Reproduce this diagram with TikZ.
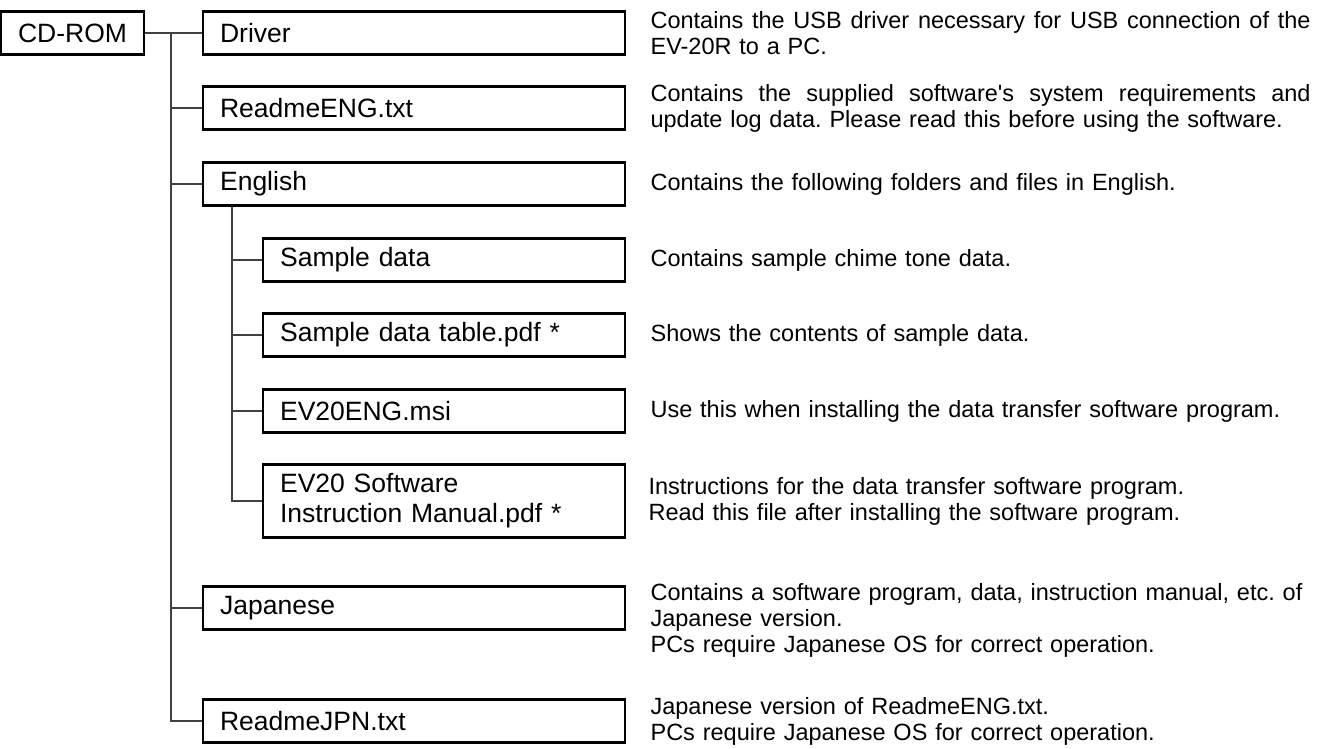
\documentclass[tikz,border=0pt]{standalone}
\usepackage{fontspec}
\setmainfont{Liberation Sans}
\frenchspacing
\newcommand\fullline[1]{\hbox to 330pt{\spaceskip=3.2pt plus 1fil\relax #1}}
\begin{document}
\begin{tikzpicture}[x=0.5pt,y=-0.5pt]
  \tikzstyle{dir}=[draw,line width=1.1pt,rectangle,anchor=west,minimum height=21.5pt,
                   inner xsep=8.5pt,align=left,font=\fontsize{13.25}{15}\selectfont]
  \tikzstyle{dirA}=[dir,text width=194pt]
  \tikzstyle{dirB}=[dir,text width=164pt]
  \tikzstyle{info}=[anchor=west,inner sep=0pt,text width=330pt,align=left,
                    font=\fontsize{11.75}{13}\selectfont]
  \tikzstyle{conn}=[line width=0.9pt,black!75]
  \useasboundingbox (0,0) rectangle (1319,749);
  % folders and files
  \node[dir,anchor=center,minimum width=66pt,align=center] (cdrom) at (72.5,33) {CD-ROM};
  \node[dirA] (driver)    at (202,33)  {Driver};
  \node[dirA] (readme)    at (202,108) {ReadmeENG.txt};
  \node[dirA] (english)   at (202,184) {English};
  \node[dirB] (sample)    at (262,260) {Sample data};
  \node[dirB] (table)     at (262,335) {Sample data table.pdf *};
  \node[dirB] (msi)       at (262,411) {EV20ENG.msi};
  \node[dirB,minimum height=36.5pt] (manual) at (262,501) {EV20 Software\\Instruction Manual.pdf *};
  \node[dirA] (japanese)  at (202,608) {Japanese};
  \node[dirA] (readmejpn) at (202,721) {ReadmeJPN.txt};
  % connectors
  \coordinate (root) at (171,33);
  \coordinate (sub) at (232,0);
  \draw[conn] (cdrom.east) -- (driver.west);
  \foreach \n in {readme,english,japanese,readmejpn}
    \draw[conn] (root) |- (\n.west);
  \foreach \n in {sample,table,msi,manual}
    \draw[conn] (sub |- english.south) |- (\n.west);
  % descriptions
  \node[info] (driverinfo) at ([xshift=12pt]driver.east)
    {\fullline{Contains the USB driver necessary for USB connection of the}\\EV-20R to a PC.};
  \node[info] (readmeinfo) at ([xshift=12pt]readme.east)
    {\fullline{Contains the supplied software\textquotesingle s system requirements and}\\update log data. Please read this before using the software.};
  \node[info] (englishinfo) at ([xshift=12pt]english.east)
    {Contains the following folders and files in English.};
  \node[info] (sampleinfo) at ([xshift=12pt]sample.east)
    {Contains sample chime tone data.};
  \node[info] (tableinfo) at ([xshift=12pt]table.east)
    {Shows the contents of sample data.};
  \node[info] (msiinfo) at ([xshift=12pt]msi.east)
    {Use this when installing the data transfer software program.};
  \node[info] (manualinfo) at ([xshift=11pt]manual.east)
    {Instructions for the data transfer software program.\\Read this file after installing the software program.};
  \node[info,yshift=-6pt] (japaneseinfo) at ([xshift=12pt]japanese.east)
    {Contains a software program, data, instruction manual, etc. of\\Japanese version.\\PCs require Japanese OS for correct operation.};
  \node[info] (readmejpninfo) at ([xshift=12pt]readmejpn.east)
    {Japanese version of ReadmeENG.txt.\\PCs require Japanese OS for correct operation.};
\end{tikzpicture}
\end{document}
